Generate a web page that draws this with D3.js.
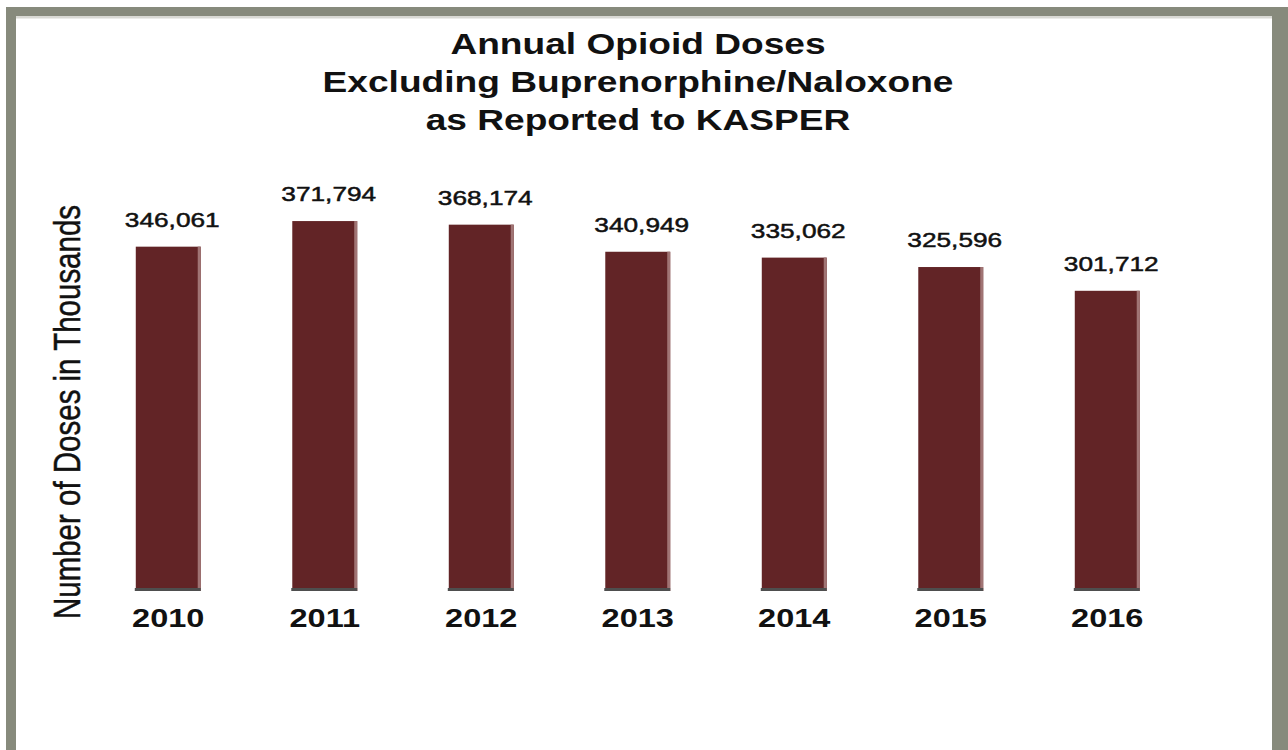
<!DOCTYPE html>
<html>
<head>
<meta charset="utf-8">
<script src="https://cdn.jsdelivr.net/npm/d3@7/dist/d3.min.js"></script>
<style>
  html, body { margin: 0; padding: 0; background: #ffffff; }
  svg { display: block; }
  text { font-family: "Liberation Sans", Arial, Helvetica, sans-serif; }
</style>
</head>
<body>
<svg id="chart" width="1288" height="750"></svg>
<script>
// Annual opioid doses (excluding buprenorphine/naloxone) reported to KASPER
const years = ["2010", "2011", "2012", "2013", "2014", "2015", "2016"];
const doses = [346061, 371794, 368174, 340949, 335062, 325596, 301712];
const titleLines = [
  "Annual Opioid Doses",
  "Excluding Buprenorphine/Naloxone",
  "as Reported to KASPER"
];
const yAxisTitle = "Number of Doses in Thousands";

const W = 1288, H = 750;
const svg = d3.select("#chart");

// page background and the grey frame (top, left, right)
svg.append("rect").attr("width", W).attr("height", H).attr("fill", "#ffffff");
const frame = "#878a7c";
svg.append("rect").attr("x", 6).attr("y", 7).attr("width", W - 6).attr("height", 9).attr("fill", frame);
svg.append("rect").attr("x", 6).attr("y", 7).attr("width", 10).attr("height", H - 7).attr("fill", frame);
svg.append("rect").attr("x", 1272).attr("y", 7).attr("width", 16).attr("height", H - 7).attr("fill", frame);
svg.append("rect").attr("x", 16).attr("y", 16).attr("width", 1256).attr("height", 2.5).attr("fill", "#d9d9d4");

// scales
const baseY = 591;
const x = d3.scaleBand()
  .domain(years)
  .range([90, 90 + 7 * 156.5])
  .paddingInner(0.585)
  .paddingOuter(0.2925);
const y = d3.scaleLinear()
  .domain([0, 400000])
  .range([baseY, baseY - 398]);

const data = years.map((yr, i) => ({ year: yr, value: doses[i] }));
const sx = 1.25; // horizontal stretch of the lettering

// title
const title = svg.append("g");
titleLines.forEach((line, i) => {
  title.append("text")
    .attr("transform", `translate(638,${54 + i * 38}) scale(1.28,1)`)
    .attr("text-anchor", "middle")
    .attr("font-size", 29)
    .attr("font-weight", "bold")
    .attr("fill", "#111111")
    .text(line);
});

// bars
const bars = svg.append("g").selectAll("g.bar").data(data).join("g").attr("class", "bar");
bars.append("rect")
  .attr("x", d => x(d.year))
  .attr("y", d => y(d.value))
  .attr("width", x.bandwidth())
  .attr("height", d => baseY - y(d.value))
  .attr("fill", "#622426");
// light right edge
bars.append("rect")
  .attr("x", d => x(d.year) + x.bandwidth() - 3)
  .attr("y", d => y(d.value))
  .attr("width", 3)
  .attr("height", d => baseY - y(d.value))
  .attr("fill", "#a07474");
// dark foot of each bar
bars.append("rect")
  .attr("x", d => x(d.year) - 1)
  .attr("y", baseY - 3)
  .attr("width", x.bandwidth() + 1)
  .attr("height", 3)
  .attr("fill", "#4e4e4e");

// value labels
svg.append("g").selectAll("text").data(data).join("text")
  .attr("transform", d => `translate(${x(d.year) + x.bandwidth() / 2 + 4},${y(d.value) - 20}) scale(${sx},1)`)
  .attr("text-anchor", "middle")
  .attr("font-size", 21)
  .attr("fill", "#111111")
  .attr("stroke", "#111111")
  .attr("stroke-width", 0.5)
  .text(d => d3.format(",")(d.value));

// category axis
const xAxis = svg.append("g")
  .attr("transform", `translate(0,${baseY})`)
  .call(d3.axisBottom(x).tickSize(0).tickSizeOuter(0));
xAxis.select(".domain").remove();
xAxis.selectAll(".tick text")
  .attr("y", 0)
  .attr("dy", null)
  .attr("transform", `translate(0,36) scale(${sx},1)`)
  .attr("font-family", "Liberation Sans, Arial, sans-serif")
  .attr("font-size", 26)
  .attr("font-weight", "bold")
  .attr("fill", "#111111");

// y axis title
svg.append("text")
  .attr("transform", `translate(80,412) scale(${sx},1) rotate(-90)`)
  .attr("text-anchor", "middle")
  .attr("font-size", 29.5)
  .attr("fill", "#111111")
  .attr("stroke", "#111111")
  .attr("stroke-width", 0.4)
  .text(yAxisTitle);
</script>
</body>
</html>
